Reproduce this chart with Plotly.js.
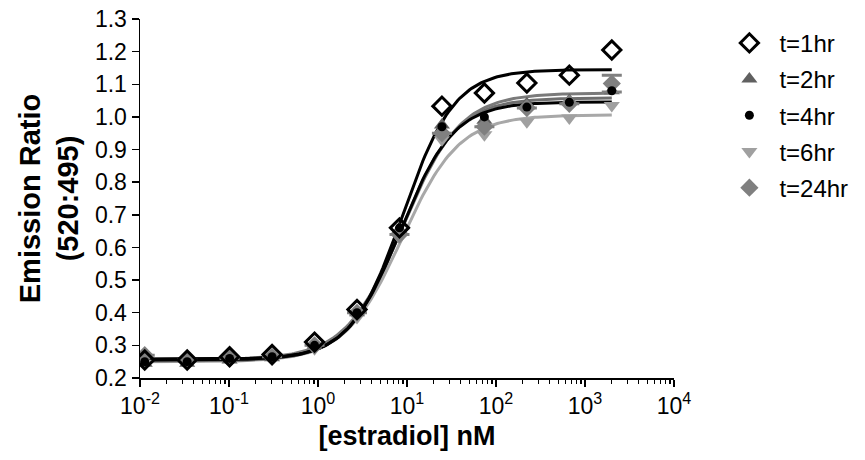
<!DOCTYPE html>
<html>
<head>
<meta charset="utf-8">
<script src="https://cdn.plot.ly/plotly-3.0.1.min.js"></script>
<style>html,body{margin:0;padding:0;background:#fff;}#chart{width:865px;height:460px;}</style>
</head>
<body>
<div id="chart"></div>
<script>
// concentrations (nM), 3-fold dilution series
const conc = [0.0113, 0.0339, 0.1016, 0.3048, 0.9145, 2.743, 8.230, 24.69, 74.07, 222.2, 666.7, 2000];

const seriesNames = ["t=1hr", "t=2hr", "t=4hr", "t=6hr", "t=24hr"];
const t1 = [0.255, 0.255, 0.265, 0.272, 0.310, 0.410, 0.660, 1.033, 1.073, 1.104, 1.128, 1.205];
const t2 = [0.245, 0.245, 0.255, 0.262, 0.300, 0.400, 0.655, 0.975, 0.990, 1.040, 1.050, 1.080];
const t4 = [0.250, 0.250, 0.260, 0.265, 0.300, 0.400, 0.660, 0.970, 1.000, 1.030, 1.045, 1.080];
const t6 = [0.245, 0.250, 0.255, 0.258, 0.290, 0.385, 0.630, 0.930, 0.945, 0.985, 0.997, 1.035];
const t24 = [0.270, 0.255, 0.260, 0.265, 0.300, 0.400, 0.640, 0.950, 0.970, 1.027, 1.040, 1.102];
const t24err = [0, 0, 0, 0, 0, 0, 0, 0, 0, 0, 0, 0.026];

// sigmoidal fit parameters per series: bottom, top, EC50 (nM), Hill slope
const fitBottom = [0.258, 0.252, 0.255, 0.250, 0.257];
const fitTop = [1.145, 1.058, 1.046, 1.006, 1.073];
const fitEC50 = [9.0, 8.6, 8.4, 8.8, 9.0];
const fitHill = [1.5, 1.4, 1.45, 1.35, 1.35];

const yTickVals = [0.2,0.3,0.4,0.5,0.6,0.7,0.8,0.9,1.0,1.1,1.2,1.3];
const xTickVals = [0.01, 0.1, 1, 10, 100, 1000, 10000];
const xTickText = ["10<sup>-2</sup>","10<sup>-1</sup>","10<sup>0</sup>","10<sup>1</sup>","10<sup>2</sup>","10<sup>3</sup>","10<sup>4</sup>"];

const dataSets = [t1, t2, t4, t6, t24];
const colors = ["#000000", "#606060", "#000000", "#a0a0a0", "#808080"];
const lineColors = ["#000000", "#6e6e6e", "#000000", "#a8a8a8", "#7a7a7a"];
const symbols = ["diamond-open", "triangle-up", "circle", "triangle-down", "diamond"];
const sizes = [14, 14, 9, 14, 14];

function fitCurve(i) {
  const xs = [], ys = [];
  const lo = Math.log10(conc[0]), hi = Math.log10(conc[conc.length-1]);
  for (let k = 0; k <= 200; k++) {
    const lx = lo + (hi - lo) * k / 200;
    const x = Math.pow(10, lx);
    xs.push(x);
    ys.push(fitBottom[i] + (fitTop[i] - fitBottom[i]) / (1 + Math.pow(fitEC50[i] / x, fitHill[i])));
  }
  return {xs, ys};
}

const traces = [];
const lineOrder = [3, 1, 4, 2, 0];
lineOrder.forEach(i => {
  const c = fitCurve(i);
  traces.push({x: c.xs, y: c.ys, mode: 'lines', line: {color: lineColors[i], width: 3},
    showlegend: false, hoverinfo: 'skip'});
});
[3, 1, 4, 2, 0].forEach(i => {
  const tr = {x: conc, y: dataSets[i], mode: 'markers', name: seriesNames[i],
    legendrank: i + 1, legendgroup: 'g' + i,
    marker: {symbol: symbols[i], size: sizes[i], color: colors[i],
      line: {color: colors[i], width: i === 0 ? 3 : 0}}};
  if (i === 4) {
    tr.error_y = {type: 'data', array: t24err, visible: true, color: '#808080', thickness: 3, width: 10};
  }
  traces.push(tr);
});

const layout = {
  width: 865, height: 460,
  margin: {l: 140, r: 184, t: 19, b: 82},
  paper_bgcolor: '#fff', plot_bgcolor: '#fff',
  font: {family: 'Liberation Sans, Arial, sans-serif', color: '#000', size: 23},
  showlegend: true,
  legend: {x: 1.085, y: 0.995, xanchor: 'left', yanchor: 'top', font: {size: 24},
    tracegroupgap: 2, traceorder: 'grouped', itemwidth: 50},
  xaxis: {type: 'log', range: [-2, 4], tickvals: xTickVals, ticktext: xTickText,
    ticks: 'outside', ticklen: 7, tickwidth: 1.5, tickcolor: '#000',
    showline: true, linecolor: '#000', linewidth: 1.5, showgrid: false, zeroline: false,
    tickfont: {size: 23},
    minor: {ticks: 'outside', ticklen: 4, tickwidth: 1.2, tickcolor: '#000', dtick: 'D1', showgrid: false},
    title: {text: '<b>[estradiol] nM</b>', font: {size: 27}, standoff: 8}},
  yaxis: {range: [0.2, 1.3], tickvals: yTickVals, tickformat: '.1f',
    ticks: 'outside', ticklen: 7, tickwidth: 1.5, tickcolor: '#000',
    showline: true, linecolor: '#000', linewidth: 1.5, showgrid: false, zeroline: false,
    tickfont: {size: 23},
    title: {text: '<b>Emission Ratio<br>(520:495)</b>', font: {size: 29}, standoff: 8}}
};

Plotly.newPlot('chart', traces, layout, {displayModeBar: false, staticPlot: true});
</script>
</body>
</html>
